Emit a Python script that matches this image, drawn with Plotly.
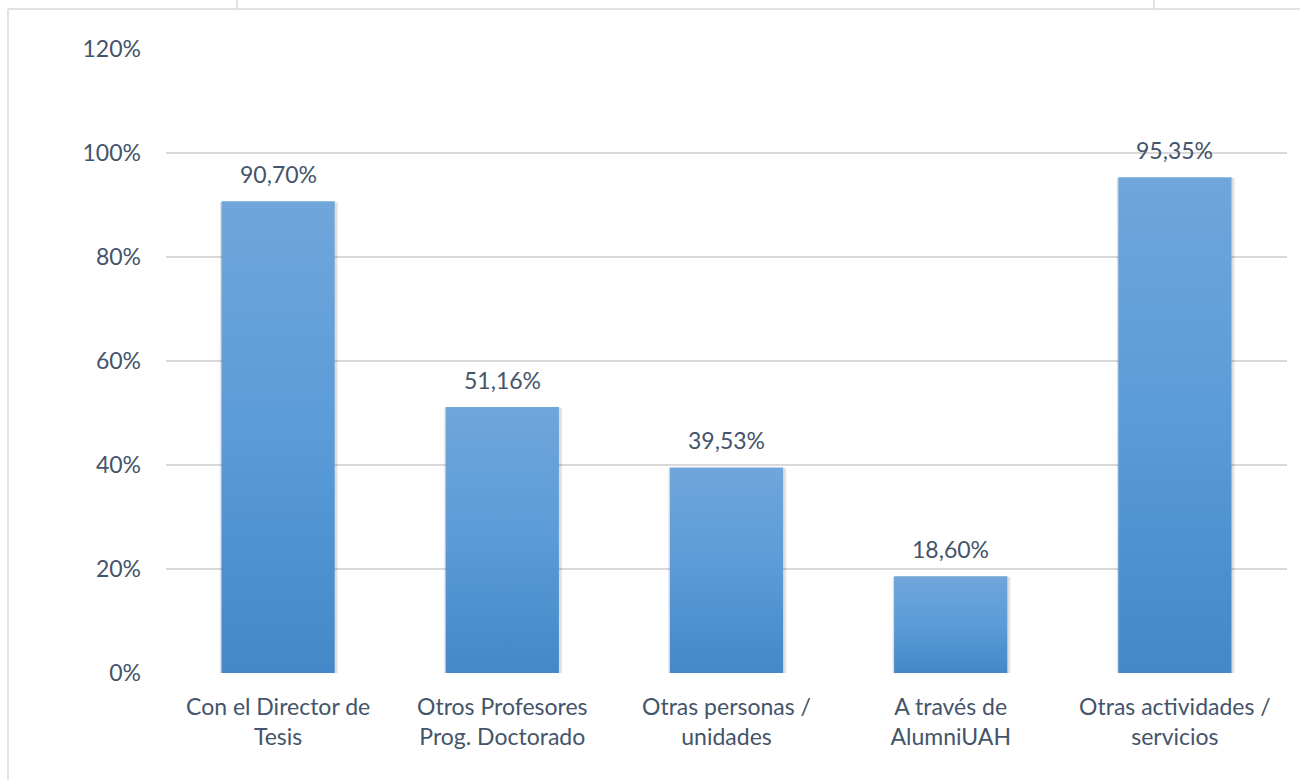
import plotly.graph_objects as go

categories = ["Con el Director de<br>Tesis", "Otros Profesores<br>Prog. Doctorado",
              "Otras personas /<br>unidades", "A través de<br>AlumniUAH",
              "Otras actividades /<br>servicios"]
values = [0.9070, 0.5116, 0.3953, 0.1860, 0.9535]
y_ticks = [0, 0.2, 0.4, 0.6, 0.8, 1.0, 1.2]
y_tick_labels = ["0%", "20%", "40%", "60%", "80%", "100%", "120%"]

FONT = "Lato"
FS = 23
TXT = "#44546a"
GRID = "#d9d9d9"
W = 0.505  # bar width in category units

fig = go.Figure()

# soft shadow + gradient bars drawn as filled polygons
for i, v in enumerate(values):
    for dx, dy, op in [(0.016, 0.004, 0.06), (0.010, 0.002, 0.08)]:
        fig.add_trace(go.Scatter(
            x=[i - W / 2 - dx / 2, i - W / 2 - dx / 2, i + W / 2 + dx, i + W / 2 + dx, i - W / 2 - dx / 2],
            y=[-dy, v - dy / 2, v - dy / 2, -dy, -dy],
            fill="toself", mode="lines", line=dict(width=0),
            fillcolor=f"rgba(0,0,0,{op})", hoverinfo="skip", showlegend=False))
    fig.add_trace(go.Scatter(
        x=[i - W / 2, i - W / 2, i + W / 2, i + W / 2, i - W / 2],
        y=[0, v, v, 0, 0],
        fill="toself", mode="lines", line=dict(width=0),
        fillgradient=dict(type="vertical",
                          colorscale=[[0, "#4388c8"], [0.5, "#5a9bd8"], [1, "#70a6da"]]),
        hoverinfo="skip", showlegend=False))

# value labels
annotations = [
    dict(x=i, y=v, xref="x", yref="y", yanchor="bottom", yshift=11, showarrow=False,
         text=f"{v * 100:.2f}".replace(".", ",") + "%",
         font=dict(family=FONT, size=FS, color=TXT))
    for i, v in enumerate(values)
]

L, R, T, B = 166, 13, 49, 107
pw = 1300 - L - R
ph = 780 - T - B

def px_x(p):
    return (p - L) / pw

def px_y(p):
    return 1 - (p - T) / ph

frame = dict(type="line", xref="paper", yref="paper", line=dict(color=GRID, width=1.5), layer="below")
fig.update_layout(
    width=1300, height=780,
    margin=dict(l=L, r=R, t=T, b=B),
    paper_bgcolor="white", plot_bgcolor="white",
    font=dict(family=FONT, size=FS, color=TXT),
    xaxis=dict(range=[-0.5, len(values) - 0.5], tickvals=list(range(len(values))),
               ticktext=categories, showgrid=False, zeroline=False, showline=False,
               ticks="", ticklabelstandoff=18, fixedrange=True),
    yaxis=dict(range=[0, 1.2], tickvals=y_ticks, ticktext=y_tick_labels,
               showgrid=True, gridcolor=GRID, gridwidth=1.5, zeroline=False,
               showline=False, ticks="", ticklabelstandoff=24, fixedrange=True),
    annotations=annotations,
    shapes=[
        dict(frame, x0=px_x(8), x1=px_x(1300), y0=px_y(9), y1=px_y(9)),
        dict(frame, x0=px_x(8), x1=px_x(8), y0=px_y(9), y1=px_y(780)),
        dict(frame, x0=px_x(237), x1=px_x(237), y0=px_y(0), y1=px_y(9)),
        dict(frame, x0=px_x(1154), x1=px_x(1154), y0=px_y(0), y1=px_y(9)),
    ],
)

fig.write_html("out.html", config={"displayModeBar": False},
               post_script="document.body.style.margin='0';")
